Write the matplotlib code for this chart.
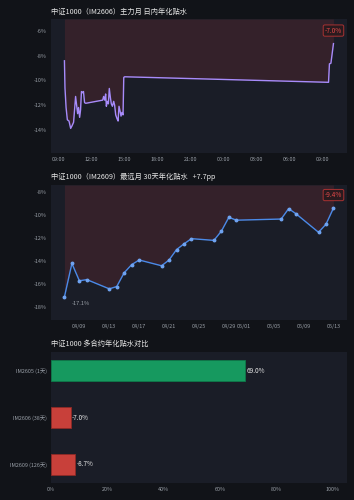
import numpy as np
import pandas as pd
import matplotlib
matplotlib.use("Agg")
import matplotlib.pyplot as plt
import matplotlib.dates as mdates
from matplotlib.ticker import MultipleLocator, FuncFormatter

plt.rcParams['font.family'] = ['Noto Sans CJK SC', 'DejaVu Sans']

# 日内数据 (IM2606)
intraday_times = [
    "2026-05-13 09:31", "2026-05-13 09:34", "2026-05-13 09:40", "2026-05-13 09:47",
    "2026-05-13 09:56", "2026-05-13 10:05", "2026-05-13 10:12", "2026-05-13 10:21",
    "2026-05-13 10:32", "2026-05-13 10:43", "2026-05-13 10:48", "2026-05-13 10:54",
    "2026-05-13 10:59", "2026-05-13 11:04", "2026-05-13 11:10", "2026-05-13 11:15",
    "2026-05-13 11:21", "2026-05-13 11:26", "2026-05-13 11:30",
    "2026-05-13 13:00", "2026-05-13 13:05", "2026-05-13 13:11", "2026-05-13 13:16",
    "2026-05-13 13:20", "2026-05-13 13:25", "2026-05-13 13:31", "2026-05-13 13:36",
    "2026-05-13 13:42", "2026-05-13 13:47", "2026-05-13 13:53", "2026-05-13 14:00",
    "2026-05-13 14:05", "2026-05-13 14:11", "2026-05-13 14:18", "2026-05-13 14:24",
    "2026-05-13 14:29", "2026-05-13 14:35", "2026-05-13 14:40", "2026-05-13 14:45",
    "2026-05-13 14:51", "2026-05-13 14:55", "2026-05-13 15:00",
    "2026-05-14 09:33", "2026-05-14 09:38", "2026-05-14 09:46", "2026-05-14 10:00",
]
intraday_vals = [
    -8.4, -10.6, -12.2, -13.2,
    -13.3, -13.9, -13.7, -13.4,
    -11.3, -12.7, -12.2, -13.0,
    -12.4, -10.9, -11.0, -10.9,
    -11.8, -11.85, -11.85,
    -11.6, -11.3, -11.6, -11.1,
    -12.1, -11.7, -11.9, -10.65,
    -11.4, -11.9, -12.1, -11.7,
    -12.0, -12.8, -13.1, -13.3,
    -12.1, -12.5, -12.9, -12.6,
    -12.8, -9.75, -9.7,
    -10.15, -8.65, -8.6, -7.0,
]

# 30天数据 (IM2609)
daily_dates = [
    "2026-04-07", "2026-04-08", "2026-04-09", "2026-04-10", "2026-04-13", "2026-04-14",
    "2026-04-15", "2026-04-16", "2026-04-17", "2026-04-20", "2026-04-21", "2026-04-22",
    "2026-04-23", "2026-04-24", "2026-04-27", "2026-04-28", "2026-04-29", "2026-04-30",
    "2026-05-06", "2026-05-07", "2026-05-08", "2026-05-11", "2026-05-12", "2026-05-13",
]
daily_vals = [
    -17.1, -14.2, -15.7, -15.6, -16.4, -16.2,
    -15.0, -14.3, -13.9, -14.4, -13.9, -13.0,
    -12.5, -12.05, -12.2, -11.4, -10.2, -10.45,
    -10.35, -9.45, -9.9, -11.5, -10.8, -9.4,
]

# 多合约对比
contracts = ["IM2605 (1天)", "IM2606 (38天)", "IM2609 (126天)"]
contract_vals = [69.0, -7.0, -8.7]

BG = '#111318'
AX_BG = '#1a1d27'
FILL = '#34212a'
TXT = '#e6e6e6'
TICK = '#9aa0a8'

fig = plt.figure(figsize=(3.54, 5.0), dpi=100, facecolor=BG)


def style_axes(ax):
    ax.set_facecolor(AX_BG)
    for s in ax.spines.values():
        s.set_visible(False)
    ax.tick_params(colors=TICK, labelsize=3.9, length=0, pad=3)


pct = FuncFormatter(lambda v, p: f"{v:.0f}%".replace('\u2212', '-'))


def badge(ax, x, y, text):
    ax.annotate(text, (x, y), xytext=(0, 6.5), textcoords='offset points',
                ha='center', va='bottom', fontsize=4.7, color='#e04848',
                bbox=dict(boxstyle='round,pad=0.25', fc='#2a1a1e', ec='#a83232', lw=0.7))


# 1. 日内
ax1 = fig.add_axes([0.144, 0.694, 0.836, 0.268])
style_axes(ax1)
t1 = pd.to_datetime(intraday_times)
v1 = np.array(intraday_vals)
lo, hi = v1.min() - 2, v1.max() + 2
ax1.fill_between(t1, v1, hi, color=FILL, lw=0)
ax1.plot(t1, v1, color='#a78bfa', lw=1.0)
ax1.set_ylim(lo, hi)
ax1.yaxis.set_major_locator(MultipleLocator(2))
ax1.yaxis.set_major_formatter(pct)
ax1.xaxis.set_major_locator(mdates.HourLocator(byhour=range(0, 24, 3)))
ax1.xaxis.set_major_formatter(mdates.DateFormatter('%H:%M'))
ax1.set_title("中证1000（IM2606）主力月 日内年化贴水", loc='left', fontsize=5.2,
              color=TXT, pad=4)
badge(ax1, t1[-1], v1[-1], f"{v1[-1]:.1f}%")

# 2. 30天
ax2 = fig.add_axes([0.144, 0.36, 0.836, 0.27])
style_axes(ax2)
t2 = pd.to_datetime(daily_dates)
v2 = np.array(daily_vals)
lo, hi = v2.min() - 2, v2.max() + 2
ax2.fill_between(t2, v2, hi, color=FILL, lw=0)
ax2.plot(t2, v2, color='#4a8ae8', lw=1.0, marker='o', ms=1.8,
         mfc='#6fa3f0', mec='#6fa3f0')
ax2.set_ylim(lo, hi)
ax2.yaxis.set_major_locator(MultipleLocator(2))
ax2.yaxis.set_major_formatter(pct)
ax2.xaxis.set_major_locator(mdates.DayLocator(bymonthday=[1, 5, 9, 13, 17, 21, 25, 29]))
ax2.xaxis.set_major_formatter(mdates.DateFormatter('%m/%d'))
change = v2[-1] - v2[0]
ax2.set_title(f"中证1000（IM2609）最远月 30天年化贴水   {change:+.1f}pp", loc='left',
              fontsize=5.2, color=TXT, pad=4)
ax2.annotate(f"{v2[0]:.1f}%", (t2[0], v2[0]), xytext=(5, -4.5), textcoords='offset points',
             ha='left', va='center', fontsize=4.1, color=TICK)
badge(ax2, t2[-1], v2[-1], f"{v2[-1]:.1f}%")

# 3. 多合约对比
ax3 = fig.add_axes([0.144, 0.034, 0.836, 0.262])
style_axes(ax3)
ypos = np.arange(len(contracts))
vals = np.array(contract_vals)
colors = ['#16995f' if v > 0 else '#c8403a' for v in vals]
edges = ['#0e7a4a' if v > 0 else '#8e2a26' for v in vals]
ax3.barh(ypos, np.abs(vals), height=0.45, color=colors, edgecolor=edges, lw=0.6)
for y, v in zip(ypos, vals):
    ax3.text(abs(v) + 0.5, y, f"{v:.1f}%", va='center', ha='left', fontsize=4.6, color=TXT)
ax3.set_yticks(ypos)
ax3.set_yticklabels(contracts)
ax3.set_ylim(2.4, -0.4)
ax3.set_xlim(0, 105)
ax3.xaxis.set_major_locator(MultipleLocator(20))
ax3.xaxis.set_major_formatter(pct)
ax3.set_title("中证1000 多合约年化贴水对比", loc='left', fontsize=5.2, color=TXT, pad=4)

fig.savefig('out.png', dpi=100, facecolor=BG)
